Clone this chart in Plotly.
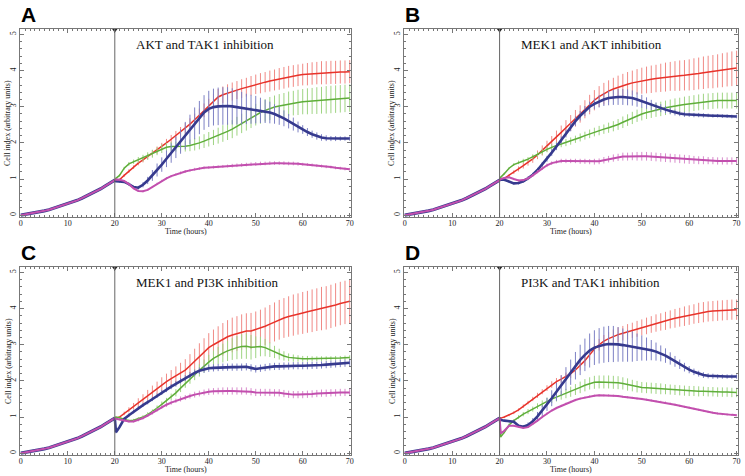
import plotly.graph_objects as go

# ---------------- data ----------------
TIME_PRE = [0, 1, 2, 3, 4, 5, 6, 7, 8, 9, 10, 11, 12, 13, 14, 15, 16, 17, 18, 19, 20]
PRE = [0.0, 0.02, 0.04, 0.06, 0.09, 0.12, 0.15, 0.19, 0.23, 0.27, 0.31, 0.36, 0.41,
       0.47, 0.53, 0.59, 0.66, 0.73, 0.81, 0.89, 0.97]
TIME_POST = [20.25] + list(range(21, 71))
TREAT_TIME = 20

TITLES = ["AKT and TAK1 inhibition", "MEK1 and AKT inhibition",
          "MEK1 and PI3K inhibition", "PI3K and TAK1 inhibition"]
LETTERS = ["A", "B", "C", "D"]

# Panel A
A_RED = [0.97, 0.98,1.1,1.22,1.33,1.44,1.53,1.62,1.71,1.8,
         1.9,2.0,2.1,2.2,2.3,2.4,2.52,2.64,2.77,2.9,
         3.02,3.15,3.27,3.33,3.38,3.42,3.46,3.5,3.54,3.58,
         3.62,3.65,3.68,3.71,3.74,3.77,3.8,3.83,3.85,3.87,
         3.89,3.9,3.92,3.93,3.94,3.94,3.95,3.95,3.96,3.96,
         3.97]
A_RED_ERR = [0.02, 0.03,0.04,0.05,0.05,0.06,0.07,0.08,0.09,0.1,
             0.1,0.11,0.12,0.13,0.14,0.15,0.16,0.17,0.18,0.19,
             0.2,0.21,0.22,0.23,0.24,0.25,0.25,0.26,0.26,0.27,
             0.27,0.28,0.28,0.29,0.29,0.3,0.3,0.3,0.3,0.3,
             0.3,0.31,0.31,0.31,0.32,0.32,0.32,0.32,0.32,0.32,
             0.32]
A_GREEN = [1.02, 1.1,1.3,1.42,1.48,1.53,1.58,1.64,1.7,1.77,
           1.84,1.88,1.9,1.9,1.9,1.91,1.93,1.96,2.0,2.05,
           2.1,2.15,2.2,2.26,2.32,2.38,2.46,2.54,2.62,2.7,
           2.78,2.84,2.9,2.95,2.99,3.02,3.05,3.08,3.1,3.12,
           3.14,3.15,3.16,3.17,3.18,3.19,3.2,3.21,3.22,3.23,
           3.24]
A_GREEN_ERR = [0.02, 0.03,0.04,0.05,0.06,0.08,0.09,0.1,0.11,0.11,
               0.12,0.12,0.13,0.14,0.14,0.15,0.16,0.17,0.18,0.19,
               0.2,0.21,0.22,0.23,0.24,0.25,0.26,0.27,0.28,0.29,
               0.3,0.31,0.31,0.32,0.32,0.33,0.33,0.34,0.34,0.35,
               0.35,0.36,0.36,0.37,0.37,0.38,0.38,0.38,0.38,0.38,
               0.38]
A_BLUE = [0.94, 0.93,0.92,0.86,0.78,0.76,0.84,0.96,1.1,1.25,
          1.4,1.56,1.72,1.88,2.04,2.2,2.37,2.54,2.7,2.84,
          2.94,2.99,3.01,3.02,3.02,3.01,2.99,2.96,2.94,2.93,
          2.92,2.9,2.87,2.84,2.8,2.75,2.68,2.6,2.52,2.44,
          2.37,2.3,2.24,2.19,2.15,2.13,2.12,2.12,2.12,2.12,
          2.12]
A_BLUE_ERR = [0.02, 0.03,0.03,0.04,0.04,0.05,0.07,0.1,0.15,0.18,
              0.2,0.23,0.27,0.3,0.34,0.38,0.41,0.44,0.46,0.48,
              0.5,0.51,0.52,0.52,0.52,0.5,0.48,0.45,0.42,0.4,
              0.38,0.35,0.32,0.3,0.27,0.25,0.22,0.2,0.18,0.15,
              0.12,0.11,0.1,0.1,0.09,0.08,0.07,0.07,0.06,0.06,
              0.06]
A_MAGENTA = [0.99, 0.98,0.95,0.86,0.74,0.67,0.66,0.7,0.78,0.87,
             0.95,1.02,1.08,1.13,1.17,1.21,1.24,1.27,1.29,1.31,
             1.32,1.33,1.34,1.35,1.36,1.37,1.38,1.39,1.4,1.41,
             1.42,1.43,1.43,1.44,1.44,1.44,1.44,1.43,1.43,1.42,
             1.41,1.4,1.39,1.37,1.36,1.34,1.33,1.31,1.3,1.28,
             1.27]
A_MAGENTA_ERR = [0.01, 0.02,0.02,0.02,0.02,0.02,0.03,0.03,0.03,0.03,
                 0.03,0.03,0.03,0.03,0.04,0.04,0.04,0.04,0.04,0.04,
                 0.04,0.04,0.04,0.04,0.04,0.05,0.05,0.05,0.05,0.05,
                 0.05,0.05,0.05,0.05,0.05,0.05,0.05,0.05,0.05,0.05,
                 0.04,0.04,0.04,0.04,0.04,0.04,0.04,0.04,0.04,0.04,
                 0.04]

# Panel B
B_RED = [1.0, 1.02,1.1,1.19,1.28,1.37,1.46,1.56,1.67,1.79,
         1.91,2.03,2.16,2.29,2.42,2.55,2.68,2.8,2.93,3.06,
         3.18,3.28,3.36,3.43,3.49,3.54,3.58,3.62,3.66,3.69,
         3.72,3.74,3.76,3.78,3.8,3.82,3.84,3.85,3.86,3.87,
         3.88,3.9,3.92,3.94,3.96,3.97,3.99,4.01,4.03,4.05,
         4.07]
B_RED_ERR = [0.02, 0.03,0.04,0.05,0.07,0.08,0.09,0.11,0.12,0.14,
             0.15,0.16,0.18,0.19,0.21,0.22,0.23,0.24,0.25,0.27,
             0.28,0.29,0.3,0.3,0.31,0.32,0.33,0.34,0.34,0.35,
             0.36,0.37,0.38,0.38,0.39,0.4,0.4,0.41,0.42,0.42,
             0.43,0.44,0.44,0.45,0.45,0.46,0.46,0.47,0.47,0.48,
             0.48]
B_GREEN = [1.05, 1.15,1.3,1.4,1.46,1.5,1.55,1.61,1.68,1.75,
           1.82,1.88,1.93,1.97,2.01,2.05,2.1,2.15,2.2,2.25,
           2.3,2.34,2.38,2.42,2.46,2.51,2.57,2.63,2.69,2.75,
           2.8,2.84,2.88,2.91,2.94,2.97,3.0,3.02,3.04,3.06,
           3.08,3.1,3.12,3.14,3.15,3.16,3.17,3.17,3.17,3.17,
           3.17]
B_GREEN_ERR = [0.02, 0.03,0.03,0.04,0.05,0.06,0.06,0.07,0.07,0.08,
               0.08,0.08,0.09,0.09,0.1,0.1,0.1,0.11,0.11,0.12,
               0.12,0.13,0.13,0.14,0.14,0.15,0.16,0.16,0.17,0.17,
               0.18,0.18,0.19,0.19,0.2,0.2,0.2,0.21,0.21,0.22,
               0.22,0.22,0.22,0.22,0.22,0.22,0.22,0.22,0.22,0.22,
               0.22]
B_BLUE = [0.99, 0.98,0.92,0.88,0.89,0.94,1.02,1.12,1.25,1.4,
          1.56,1.73,1.9,2.08,2.26,2.44,2.6,2.75,2.88,3.0,
          3.08,3.15,3.2,3.24,3.26,3.27,3.27,3.26,3.24,3.2,
          3.15,3.1,3.05,3.0,2.96,2.92,2.88,2.84,2.81,2.79,
          2.78,2.77,2.77,2.76,2.76,2.75,2.75,2.74,2.74,2.73,
          2.73]
B_BLUE_ERR = [0.02, 0.03,0.03,0.03,0.04,0.04,0.05,0.05,0.06,0.07,
              0.08,0.09,0.1,0.1,0.11,0.12,0.13,0.13,0.14,0.14,
              0.15,0.17,0.18,0.2,0.21,0.22,0.22,0.22,0.21,0.2,
              0.18,0.16,0.14,0.12,0.11,0.1,0.09,0.08,0.07,0.07,
              0.06,0.06,0.06,0.06,0.05,0.05,0.05,0.05,0.05,0.05,
              0.05]
B_MAGENTA = [1.0, 1.03,1.05,1.0,0.96,0.97,1.02,1.1,1.2,1.3,
             1.38,1.44,1.48,1.5,1.5,1.5,1.5,1.49,1.49,1.48,
             1.48,1.49,1.52,1.55,1.58,1.6,1.62,1.62,1.63,1.63,
             1.63,1.63,1.62,1.61,1.6,1.59,1.58,1.57,1.56,1.55,
             1.54,1.53,1.52,1.52,1.51,1.51,1.5,1.5,1.5,1.5,
             1.5]
B_MAGENTA_ERR = [0.02, 0.02,0.02,0.03,0.03,0.03,0.04,0.04,0.04,0.05,
                 0.05,0.05,0.05,0.06,0.06,0.06,0.06,0.07,0.07,0.07,
                 0.08,0.08,0.09,0.09,0.1,0.1,0.11,0.11,0.11,0.12,
                 0.12,0.12,0.12,0.12,0.12,0.12,0.12,0.12,0.12,0.12,
                 0.12,0.11,0.11,0.11,0.1,0.1,0.1,0.1,0.1,0.1,
                 0.1]

# Panel C
C_RED = [0.97, 1.0,1.1,1.2,1.3,1.4,1.5,1.6,1.7,1.8,
         1.9,1.98,2.06,2.14,2.22,2.3,2.42,2.55,2.68,2.8,
         2.92,3.0,3.08,3.15,3.22,3.27,3.31,3.35,3.38,3.38,
         3.42,3.46,3.51,3.57,3.63,3.69,3.74,3.78,3.82,3.85,
         3.88,3.91,3.94,3.97,4.0,4.02,4.06,4.1,4.14,4.17,
         4.2]
C_RED_ERR = [0.02, 0.03,0.05,0.07,0.09,0.12,0.13,0.15,0.17,0.18,
             0.2,0.22,0.24,0.26,0.28,0.3,0.32,0.34,0.36,0.38,
             0.4,0.42,0.43,0.45,0.46,0.48,0.48,0.49,0.49,0.5,
             0.5,0.51,0.52,0.53,0.54,0.55,0.55,0.56,0.57,0.57,
             0.58,0.58,0.59,0.59,0.6,0.6,0.6,0.6,0.6,0.6,
             0.6]
C_GREEN = [1.0, 0.98,0.93,0.9,0.91,0.95,1.0,1.07,1.15,1.25,
           1.35,1.45,1.56,1.67,1.8,1.93,2.05,2.17,2.29,2.41,
           2.52,2.62,2.7,2.77,2.83,2.88,2.92,2.95,2.96,2.93,
           2.93,2.95,2.92,2.86,2.8,2.74,2.69,2.65,2.63,2.62,
           2.61,2.61,2.61,2.61,2.61,2.62,2.62,2.63,2.63,2.64,
           2.65]
C_GREEN_ERR = [0.02, 0.03,0.03,0.04,0.04,0.05,0.05,0.06,0.06,0.07,
               0.08,0.08,0.09,0.1,0.11,0.12,0.13,0.15,0.17,0.18,
               0.2,0.22,0.24,0.26,0.28,0.3,0.32,0.34,0.35,0.34,
               0.3,0.27,0.24,0.2,0.17,0.15,0.13,0.11,0.1,0.09,
               0.08,0.08,0.07,0.07,0.07,0.06,0.06,0.06,0.06,0.06,
               0.06]
C_BLUE = [0.58, 0.72,0.95,1.05,1.15,1.25,1.33,1.41,1.5,1.59,
          1.68,1.76,1.84,1.92,2.0,2.08,2.16,2.22,2.28,2.32,
          2.35,2.36,2.37,2.38,2.38,2.38,2.38,2.38,2.39,2.36,
          2.33,2.35,2.37,2.39,2.4,2.4,2.41,2.41,2.42,2.42,
          2.42,2.42,2.43,2.43,2.44,2.45,2.46,2.47,2.48,2.49,
          2.5]
C_BLUE_ERR = [0.03, 0.04,0.04,0.05,0.05,0.05,0.05,0.06,0.06,0.06,
              0.07,0.07,0.07,0.08,0.08,0.08,0.09,0.09,0.09,0.1,
              0.1,0.1,0.1,0.1,0.1,0.1,0.1,0.1,0.1,0.1,
              0.1,0.1,0.1,0.1,0.1,0.1,0.1,0.1,0.1,0.1,
              0.1,0.1,0.1,0.1,0.1,0.1,0.1,0.1,0.1,0.1,
              0.1]
C_MAGENTA = [0.95, 0.93,0.9,0.88,0.88,0.92,0.97,1.04,1.12,1.2,
             1.28,1.34,1.4,1.45,1.5,1.54,1.58,1.62,1.65,1.68,
             1.7,1.71,1.72,1.72,1.72,1.72,1.72,1.72,1.72,1.7,
             1.68,1.68,1.68,1.68,1.67,1.67,1.65,1.63,1.62,1.62,
             1.62,1.63,1.64,1.65,1.66,1.66,1.67,1.67,1.68,1.68,
             1.68]
C_MAGENTA_ERR = [0.02, 0.02,0.03,0.03,0.03,0.04,0.04,0.04,0.05,0.05,
                 0.05,0.06,0.06,0.06,0.07,0.07,0.07,0.08,0.08,0.08,
                 0.09,0.09,0.09,0.1,0.1,0.1,0.1,0.1,0.1,0.1,
                 0.1,0.1,0.1,0.1,0.1,0.1,0.1,0.1,0.1,0.1,
                 0.1,0.1,0.1,0.1,0.1,0.1,0.1,0.1,0.1,0.1,
                 0.1]

# Panel D
D_RED = [0.97, 1.0,1.05,1.12,1.2,1.3,1.4,1.5,1.6,1.7,
         1.8,1.9,1.98,2.05,2.12,2.2,2.3,2.42,2.56,2.72,
         2.88,3.0,3.1,3.17,3.23,3.28,3.32,3.36,3.4,3.44,
         3.48,3.52,3.56,3.6,3.63,3.66,3.7,3.73,3.76,3.79,
         3.82,3.85,3.88,3.9,3.92,3.93,3.94,3.95,3.96,3.97,
         3.97]
D_RED_ERR = [0.02, 0.03,0.03,0.04,0.04,0.05,0.05,0.06,0.07,0.07,
             0.08,0.09,0.1,0.1,0.11,0.12,0.13,0.13,0.14,0.15,
             0.15,0.16,0.17,0.18,0.19,0.2,0.2,0.21,0.21,0.22,
             0.22,0.23,0.23,0.24,0.24,0.25,0.25,0.26,0.26,0.27,
             0.27,0.27,0.28,0.28,0.28,0.28,0.28,0.28,0.28,0.28,
             0.28]
D_GREEN = [0.45, 0.58,0.78,0.9,1.0,1.08,1.15,1.22,1.3,1.37,
           1.44,1.5,1.55,1.6,1.65,1.7,1.76,1.82,1.88,1.93,
           1.96,1.97,1.97,1.97,1.96,1.95,1.93,1.9,1.87,1.84,
           1.82,1.81,1.8,1.79,1.78,1.77,1.76,1.75,1.74,1.73,
           1.72,1.72,1.71,1.71,1.7,1.7,1.69,1.69,1.69,1.68,
           1.68]
D_GREEN_ERR = [0.02, 0.03,0.04,0.04,0.05,0.06,0.07,0.07,0.08,0.09,
               0.1,0.11,0.12,0.12,0.13,0.14,0.15,0.16,0.17,0.17,
               0.18,0.18,0.18,0.18,0.18,0.18,0.17,0.17,0.16,0.16,
               0.15,0.15,0.15,0.15,0.15,0.14,0.14,0.14,0.14,0.14,
               0.14,0.14,0.14,0.13,0.13,0.13,0.13,0.13,0.13,0.13,
               0.13]
D_BLUE = [0.92, 0.9,0.88,0.87,0.76,0.73,0.78,0.88,1.02,1.18,
          1.35,1.52,1.7,1.88,2.06,2.24,2.42,2.58,2.72,2.84,
          2.92,2.97,3.0,3.02,3.02,3.01,2.99,2.97,2.95,2.93,
          2.91,2.88,2.85,2.81,2.76,2.7,2.62,2.54,2.46,2.38,
          2.31,2.25,2.2,2.16,2.14,2.13,2.12,2.12,2.12,2.12,
          2.12]
D_BLUE_ERR = [0.02, 0.03,0.03,0.04,0.04,0.05,0.07,0.09,0.12,0.15,
              0.18,0.22,0.25,0.28,0.32,0.35,0.38,0.42,0.45,0.47,
              0.48,0.49,0.5,0.5,0.5,0.48,0.46,0.44,0.42,0.38,
              0.35,0.32,0.28,0.25,0.22,0.2,0.17,0.15,0.13,0.12,
              0.1,0.09,0.08,0.08,0.07,0.07,0.06,0.06,0.06,0.06,
              0.06]
D_MAGENTA = [0.55, 0.62,0.76,0.76,0.72,0.7,0.72,0.8,0.9,1.0,
             1.1,1.18,1.25,1.31,1.37,1.42,1.47,1.51,1.54,1.57,
             1.59,1.6,1.6,1.6,1.59,1.58,1.56,1.55,1.53,1.51,
             1.5,1.48,1.46,1.44,1.42,1.4,1.37,1.34,1.31,1.28,
             1.26,1.23,1.2,1.17,1.14,1.12,1.1,1.08,1.07,1.06,
             1.05]
D_MAGENTA_ERR = [0.01, 0.02,0.02,0.02,0.02,0.02,0.02,0.02,0.03,0.03,
                 0.03,0.03,0.03,0.03,0.03,0.03,0.03,0.03,0.03,0.03,
                 0.03,0.03,0.03,0.03,0.03,0.03,0.03,0.03,0.03,0.03,
                 0.03,0.03,0.03,0.03,0.03,0.03,0.03,0.03,0.03,0.03,
                 0.03,0.03,0.03,0.03,0.03,0.03,0.03,0.03,0.03,0.03,
                 0.03]

PANELS = [
    [(A_RED, A_RED_ERR), (A_GREEN, A_GREEN_ERR), (A_BLUE, A_BLUE_ERR), (A_MAGENTA, A_MAGENTA_ERR)],
    [(B_RED, B_RED_ERR), (B_GREEN, B_GREEN_ERR), (B_BLUE, B_BLUE_ERR), (B_MAGENTA, B_MAGENTA_ERR)],
    [(C_RED, C_RED_ERR), (C_GREEN, C_GREEN_ERR), (C_BLUE, C_BLUE_ERR), (C_MAGENTA, C_MAGENTA_ERR)],
    [(D_RED, D_RED_ERR), (D_GREEN, D_GREEN_ERR), (D_BLUE, D_BLUE_ERR), (D_MAGENTA, D_MAGENTA_ERR)],
]

# ---------------- styling ----------------
LINE_COLORS = ["#e8332b", "#5fae3a", "#363a8e", "#c24fae"]
ERR_COLORS = ["#f08a86", "#9fd483", "#7d80c4", "#d88bcc"]
LINE_WIDTHS = [1.5, 1.5, 2.6, 2.0]

W, H = 745, 476
# pixel boxes of the plot areas: (left, right, top, bottom)
BOXES = [(19, 352, 29, 217), (405, 741, 29, 217),
         (19, 352, 267, 455), (405, 741, 267, 455)]

SERIF = "Liberation Serif"
fig = go.Figure()

for i, series in enumerate(PANELS):
    ax = "" if i == 0 else str(i + 1)
    xref, yref = "x" + ax, "y" + ax
    # pre-treatment segment (all series overlap)
    for k in (2, 3):
        fig.add_trace(go.Scatter(
            x=TIME_PRE, y=PRE, mode="lines", xaxis=xref, yaxis=yref,
            line=dict(color=LINE_COLORS[k], width=LINE_WIDTHS[k] + (0.6 if k == 2 else 0)),
            showlegend=False, hoverinfo="skip"))
    for k, (vals, errs) in enumerate(series):
        fig.add_trace(go.Scatter(
            x=[TIME_PRE[-1]] + TIME_POST, y=[PRE[-1]] + vals,
            mode="lines", xaxis=xref, yaxis=yref,
            line=dict(color=LINE_COLORS[k], width=LINE_WIDTHS[k]),
            error_y=dict(type="data", array=[0] + errs, visible=True,
                         color=ERR_COLORS[k], thickness=1, width=0),
            showlegend=False, hoverinfo="skip"))
    # treatment marker triangle
    fig.add_trace(go.Scatter(
        x=[TREAT_TIME], y=[5.12], mode="markers", xaxis=xref, yaxis=yref,
        marker=dict(symbol="triangle-down", size=5, color="#222"),
        cliponaxis=False, showlegend=False, hoverinfo="skip"))

    l, r, t, b = BOXES[i]
    axis_common = dict(showline=True, linecolor="#777", linewidth=1, mirror="ticks",
                       ticks="inside", ticklen=4, tickcolor="#777", showgrid=False,
                       zeroline=False,
                       tickfont=dict(family=SERIF, size=8, color="#222"))
    fig.layout["xaxis" + ax] = dict(
        domain=[l / W, r / W], anchor=yref, range=[-0.2, 70.3],
        tickvals=[0, 10, 20, 30, 40, 50, 60, 70], ticklabelstandoff=-2,
        minor=dict(ticks="inside", ticklen=2, dtick=1, tickcolor="#777"),
        **axis_common)
    fig.layout["yaxis" + ax] = dict(
        domain=[1 - b / H, 1 - t / H], anchor=xref, range=[-0.05, 5.15],
        tickvals=[0, 1, 2, 3, 4, 5], tickangle=-90,
        minor=dict(ticks="inside", ticklen=2, dtick=0.2, tickcolor="#777"),
        **axis_common)

    fig.add_shape(type="line", xref=xref, yref=yref + " domain",
                  x0=TREAT_TIME, x1=TREAT_TIME, y0=0, y1=1,
                  line=dict(color="#666", width=1))

    fig.add_annotation(xref=xref, yref=yref, x=24, y=4.72, text=TITLES[i],
                       showarrow=False, xanchor="left", yanchor="middle",
                       font=dict(family=SERIF, size=13, color="#111"))
    fig.add_annotation(xref="paper", yref="paper", x=(l - 1) / W, y=1 - (t - 28) / H,
                       text="<b>" + LETTERS[i] + "</b>", showarrow=False,
                       xanchor="left", yanchor="top",
                       font=dict(family="Liberation Sans", size=21, color="#000"))
    fig.add_annotation(xref="paper", yref="paper", x=(l + r) / 2 / W, y=1 - (b + 14.5) / H,
                       text="Time (hours)", showarrow=False,
                       xanchor="center", yanchor="middle",
                       font=dict(family=SERIF, size=8, color="#222"))
    fig.add_annotation(xref="paper", yref="paper", x=(l - 12) / W, y=1 - (t + b) / 2 / H,
                       text="Cell index (arbitrary units)", showarrow=False, textangle=-90,
                       xanchor="center", yanchor="middle",
                       font=dict(family=SERIF, size=8, color="#222"))

fig.update_layout(width=W, height=H, margin=dict(l=0, r=0, t=0, b=0),
                  paper_bgcolor="white", plot_bgcolor="white")
fig.write_html("out.html", config={"displayModeBar": False},
               post_script="document.body.style.margin='0';document.body.style.overflow='hidden';")
